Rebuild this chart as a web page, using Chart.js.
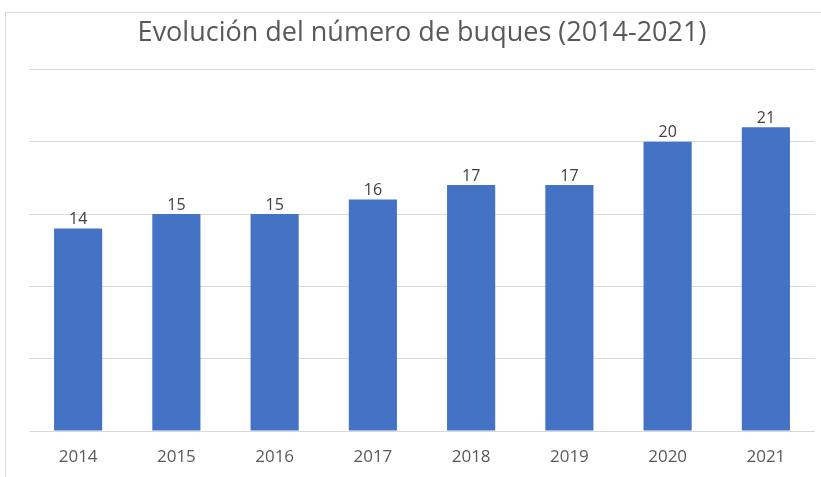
<!DOCTYPE html>
<html>
<head>
<meta charset="utf-8">
<script src="https://cdn.jsdelivr.net/npm/chart.js@4"></script>
<style>
    html, body { margin: 0; padding: 0; background: #ffffff; }
    #cadre { position: relative; width: 821px; height: 477px; }
    #bord { position: absolute; left: 5px; top: 12px; right: 0; bottom: 0; border-left: 1px solid #d9d9d9; border-top: 1px solid #d9d9d9; }
    canvas { position: absolute; left: 0; top: 0; }
</style>
</head>
<body>
<div id="cadre">
    <div id="bord"></div>
    <canvas id="graphique-buques" width="821" height="477"></canvas>
</div>
<script>
// données
const annees = ["2014", "2015", "2016", "2017", "2018", "2019", "2020", "2021"];
const nbBuques = [14, 15, 15, 16, 17, 17, 20, 21];
const titre = "Evolución del número de buques (2014-2021)";

const police = "'Open Sans', sans-serif";

// petit plugin pour écrire la valeur au dessus de chaque barre
const etiquettes = {
    id: "etiquettes",
    afterDatasetsDraw(chart) {
        const ctx = chart.ctx;
        const meta = chart.getDatasetMeta(0);
        ctx.save();
        ctx.font = "16px " + police;
        ctx.fillStyle = "#404040";
        ctx.textAlign = "center";
        ctx.textBaseline = "bottom";
        meta.data.forEach((barre, i) => {
            ctx.fillText(chart.data.datasets[0].data[i], barre.x, barre.y - 1);
        });
        ctx.restore();
    }
};

const data = {
    labels: annees,
    datasets: [{
        label: "Buques",
        data: nbBuques,
        backgroundColor: "#4472c4",
        borderWidth: 0,
        categoryPercentage: 1,
        barPercentage: 0.49
    }]
};

const config = {
    type: "bar",
    data: data,
    options: {
        responsive: false,
        animation: false,
        layout: { padding: { left: 29, right: 6, top: 0, bottom: 0 } },
        plugins: {
            legend: { display: false },
            tooltip: { enabled: false },
            title: {
                display: true,
                text: titre,
                color: "#595959",
                font: { family: police, size: 27, weight: "normal" },
                padding: { top: 17, bottom: 20 }
            }
        },
        scales: {
            x: {
                grid: { display: false, drawTicks: false },
                border: { display: false },
                ticks: { color: "#595959", font: { family: police, size: 17 }, padding: 16 },
                // hauteur de l'axe fixée pour caler le bas du graphique
                afterFit(scale) { scale.height = 46; }
            },
            y: {
                min: 0,
                max: 25,
                ticks: { display: false, stepSize: 5 },
                grid: { color: "#d9d9d9", lineWidth: 1, drawTicks: false },
                border: { display: false }
            }
        }
    },
    plugins: [etiquettes]
};

new Chart(document.querySelector("#graphique-buques"), config);
</script>
</body>
</html>
